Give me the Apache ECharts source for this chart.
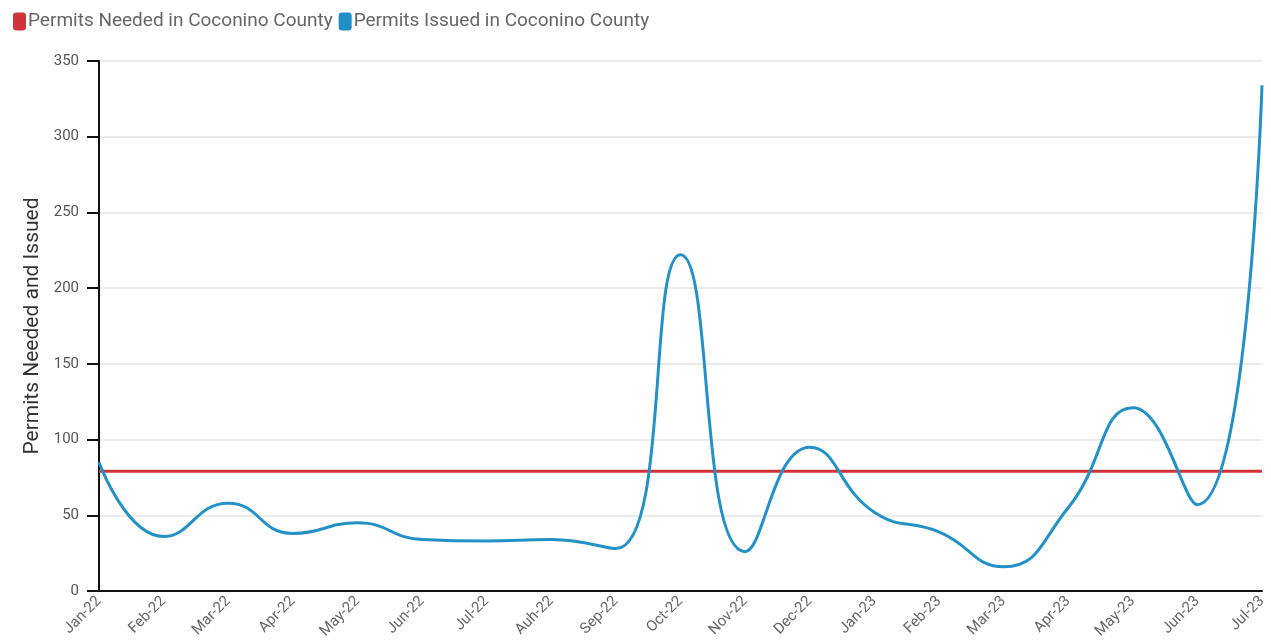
<!DOCTYPE html>
<html>
<head>
<meta charset="utf-8">
<style>
  html, body { margin: 0; padding: 0; background: #fff; }
  #chart { width: 1271px; height: 643px; }
</style>
<script src="https://cdn.jsdelivr.net/npm/echarts@6/dist/echarts.min.js"></script>
</head>
<body>
<div id="chart"></div>
<script>
// months on the x axis (label typo kept as in the source)
const months = ['Jan-22', 'Feb-22', 'Mar-22', 'Apr-22', 'May-22', 'Jun-22', 'Jul-22', 'Auh-22', 'Sep-22', 'Oct-22',
  'Nov-22', 'Dec-22', 'Jan-23', 'Feb-23', 'Mar-23', 'Apr-23', 'May-23', 'Jun-23', 'Jul-23']
const permitsNeeded = [79, 79, 79, 79, 79, 79, 79, 79, 79, 79, 79, 79, 79, 79, 79, 79, 79, 79, 79]
const permitsIssued = [85, 36, 58, 38, 45, 34, 33, 34, 28, 222, 26, 95, 52, 39, 16, 55, 121, 57, 334]

let chart = echarts.init(document.getElementById('chart'))
let options = {
  animation: false,
  textStyle: { fontFamily: 'Roboto' },
  legend: {
    left: 8,
    top: 7,
    itemGap: 6,
    itemWidth: 13,
    itemHeight: 18,
    icon: 'roundRect',
    textStyle: { fontSize: 19, color: '#666', padding: [0, 0, 0, -3] },
    data: ['Permits Needed in Coconino County', 'Permits Issued in Coconino County']
  },
  grid: { left: 99, right: 9, top: 61, bottom: 52 },
  xAxis: {
    type: 'category',
    data: months,
    boundaryGap: false,
    axisLine: { lineStyle: { color: '#111', width: 2 } },
    axisTick: { show: false },
    axisLabel: { rotate: 45, color: '#666', fontSize: 15, margin: 8, interval: 0 }
  },
  yAxis: {
    type: 'value',
    min: 0,
    max: 350,
    interval: 50,
    name: 'Permits Needed and Issued',
    nameLocation: 'middle',
    nameGap: 54,
    nameTextStyle: { fontSize: 21, color: '#333' },
    axisLine: { show: true, lineStyle: { color: '#111', width: 2 } },
    axisTick: { show: true, length: 12, lineStyle: { color: '#111', width: 2 } },
    axisLabel: { color: '#555', fontSize: 15, margin: 20 },
    splitLine: { lineStyle: { color: '#ebebeb', width: 2 } }
  },
  series: [
    {
      name: 'Permits Needed in Coconino County',
      type: 'line',
      data: permitsNeeded,
      symbol: 'none',
      itemStyle: { color: '#d13438' },
      lineStyle: { color: '#d13438', width: 3 }
    },
    {
      name: 'Permits Issued in Coconino County',
      type: 'line',
      data: permitsIssued,
      symbol: 'none',
      smooth: 0.5,
      itemStyle: { color: '#1f8fc6' },
      lineStyle: { color: '#2391c6', width: 3 }
    }
  ]
}
chart.setOption(options)
</script>
</body>
</html>
